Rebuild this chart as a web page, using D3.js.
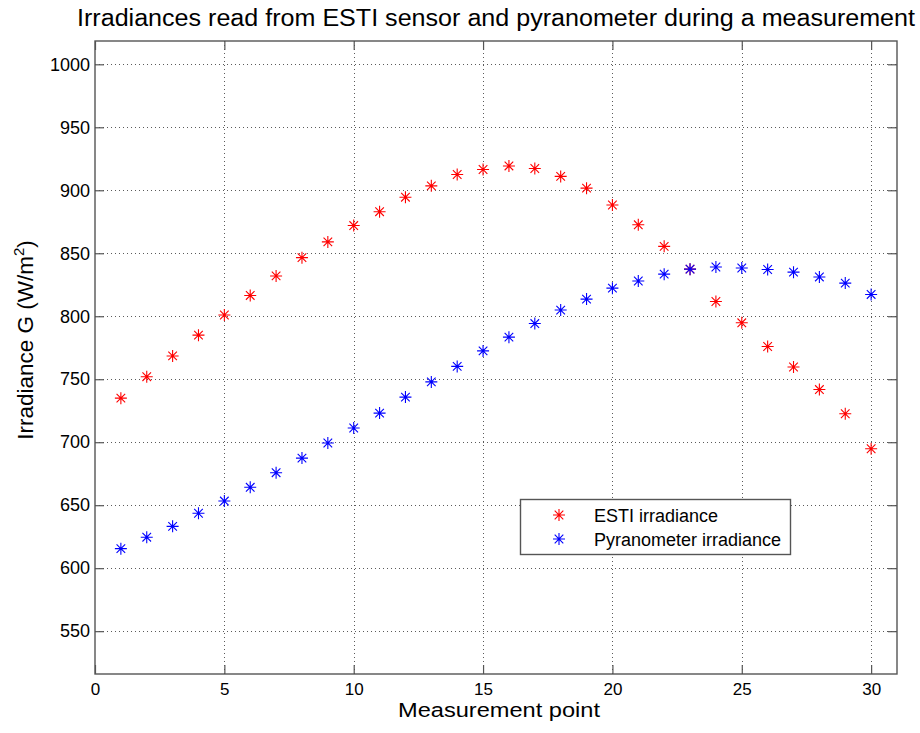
<!DOCTYPE html>
<html>
<head>
<meta charset="utf-8">
<script src="https://cdn.jsdelivr.net/npm/d3@7"></script>
<style>
  html, body { margin: 0; padding: 0; background: #fff; }
  svg { display: block; }
  text { font-family: "Liberation Sans", Arial, Helvetica, sans-serif; fill: #000; }
</style>
</head>
<body>
<svg id="chart" width="920" height="733"></svg>
<script>
// ---- data ----
const points = d3.range(1, 31);
const esti = [735, 752, 768.5, 785, 801, 816.5, 832, 846.5, 859, 872, 883, 894.5, 903.5, 912.5, 916.5, 919.3, 917.3, 911, 901.7, 888.3, 872.6, 855.5, 837.4, 811.7, 794.8, 776, 759.7, 741.8, 722.6, 694.8];
const pyr = [615.5, 624.6, 633.2, 643.6, 653.3, 664.2, 675.8, 687.4, 699.4, 711.3, 723.1, 735.8, 747.9, 760.2, 772.5, 783.4, 794.2, 804.9, 813.6, 822.3, 828, 833.4, 837.4, 839.1, 838.3, 837.1, 835, 831.2, 826.3, 817.3];
const xTicks = [0, 5, 10, 15, 20, 25, 30];
const yTicks = [550, 600, 650, 700, 750, 800, 850, 900, 950, 1000];
const seriesNames = ["ESTI irradiance", "Pyranometer irradiance"];
const seriesColors = ["#ff0000", "#0000ff"];

// ---- layout ----
const L = 95, R = 897, T = 41, B = 674;
const svg = d3.select("#chart");
const x = d3.scaleLinear().domain([0, 31]).range([L, R]);
const y = d3.scaleLinear().domain([516, 1018.5]).range([B, T]);

// grid
const grid = svg.append("g").attr("stroke", "#333").attr("stroke-width", 1).attr("stroke-dasharray", "1,3").attr("opacity", 0.8);
xTicks.filter(d => d > 0).forEach(d => {
  grid.append("line").attr("x1", Math.round(x(d)) + 0.5).attr("x2", Math.round(x(d)) + 0.5).attr("y1", T).attr("y2", B);
});
yTicks.forEach(d => {
  grid.append("line").attr("y1", Math.round(y(d)) + 0.5).attr("y2", Math.round(y(d)) + 0.5).attr("x1", L).attr("x2", R);
});

// axes via d3 axis generators (ticks inward)
const axisColor = "#555";
function styleAxis(g, fs) {
  g.select(".domain").remove();
  g.selectAll(".tick line").attr("stroke", axisColor).attr("stroke-width", 1.2);
  g.selectAll("text").style("font-size", fs + "px").style("font-family", '"Liberation Sans", Arial, sans-serif');
}
const gx = svg.append("g").attr("transform", `translate(0,${B})`)
  .call(d3.axisBottom(x).tickValues(xTicks).tickSize(-9).tickPadding(9).tickFormat(d3.format("d")));
styleAxis(gx, 17);
const gxTop = svg.append("g").attr("transform", `translate(0,${T})`)
  .call(d3.axisTop(x).tickValues(xTicks).tickSize(-9).tickFormat(""));
styleAxis(gxTop, 17);
const gy = svg.append("g").attr("transform", `translate(${L},0)`)
  .call(d3.axisLeft(y).tickValues(yTicks).tickSize(-9).tickPadding(5).tickFormat(d3.format("d")));
styleAxis(gy, 18);
const gyR = svg.append("g").attr("transform", `translate(${R},0)`)
  .call(d3.axisRight(y).tickValues(yTicks).tickSize(-9).tickFormat(""));
styleAxis(gyR, 18);

// box
svg.append("rect").attr("x", L).attr("y", T).attr("width", R - L).attr("height", B - T)
  .attr("fill", "none").attr("stroke", axisColor).attr("stroke-width", 1.4);

// asterisk marker
const star = "M-6,0H6M0,-6V6M-4.3,-4.3L4.3,4.3M-4.3,4.3L4.3,-4.3";
const series = [esti, pyr];
series.forEach((vals, i) => {
  svg.append("g").selectAll("path").data(points).join("path")
    .attr("transform", (d, j) => `translate(${x(d)},${y(vals[j])})`)
    .attr("d", star)
    .attr("fill", "none")
    .attr("stroke", seriesColors[i])
    .attr("stroke-width", 1.1);
});

// legend
const lg = svg.append("g");
lg.append("rect").attr("x", 520.5).attr("y", 499.5).attr("width", 270).attr("height", 55)
  .attr("fill", "#fff").attr("stroke", axisColor).attr("stroke-width", 1.4);
seriesNames.forEach((n, i) => {
  const yy = 515 + i * 24;
  lg.append("path").attr("transform", `translate(559,${yy})`).attr("d", star)
    .attr("fill", "none").attr("stroke", seriesColors[i]).attr("stroke-width", 1.1);
  lg.append("text").attr("x", 594).attr("y", yy + 6.5).style("font-size", "18px").text(n);
});

// title and labels
svg.append("text").attr("x", 496).attr("y", 26).attr("text-anchor", "middle")
  .attr("textLength", 838).attr("lengthAdjust", "spacingAndGlyphs")
  .style("font-size", "23px").text("Irradiances read from ESTI sensor and pyranometer during a measurement");
svg.append("text").attr("x", 499).attr("y", 717).attr("text-anchor", "middle")
  .attr("textLength", 202).attr("lengthAdjust", "spacingAndGlyphs")
  .style("font-size", "20.5px").text("Measurement point");
const yl = svg.append("text").attr("transform", "translate(33,340) rotate(-90)").attr("text-anchor", "middle")
  .style("font-size", "22.5px");
yl.append("tspan").text("Irradiance G (W/m");
yl.append("tspan").attr("dy", -9).style("font-size", "15px").text("2");
yl.append("tspan").attr("dy", 9).text(")");
</script>
</body>
</html>
